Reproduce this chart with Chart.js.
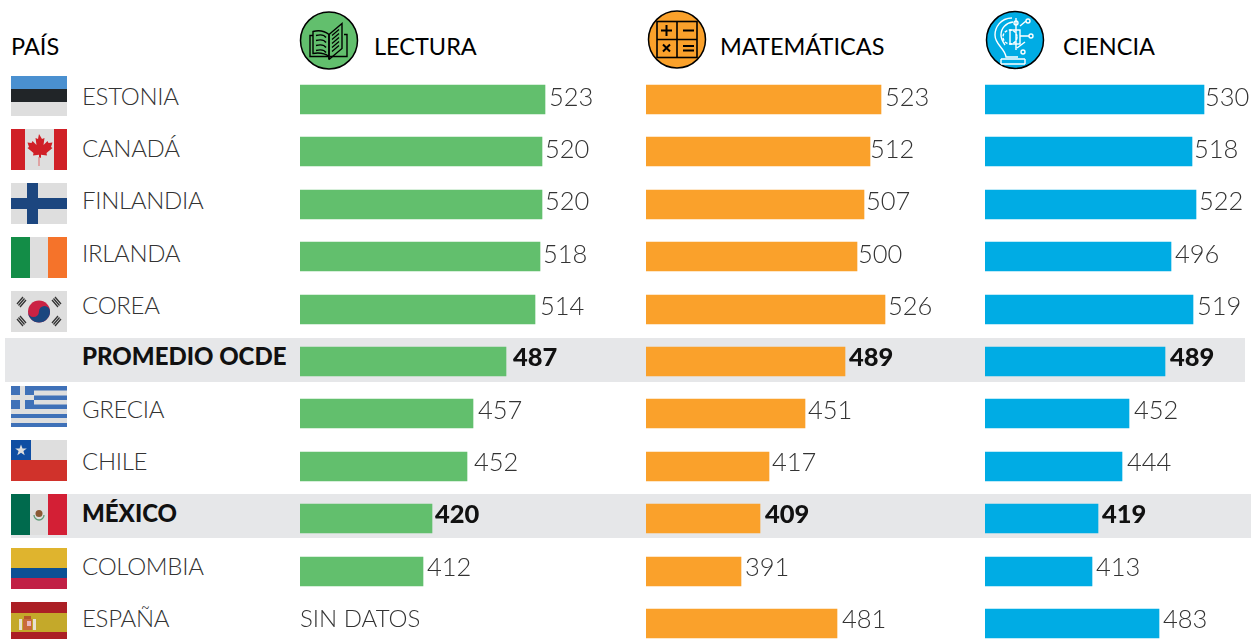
<!DOCTYPE html>
<html lang="es">
<head>
<meta charset="UTF-8" />
<title>PISA</title>
<script src="https://cdn.jsdelivr.net/npm/chart.js"></script>
<style>
    html, body { margin: 0; padding: 0; background: #fff; }
    #page { position: relative; width: 1257px; height: 639px; overflow: hidden; font-family: Lato, sans-serif; }
    #page canvas { position: absolute; top: 73px; }
    #dibujos { position: absolute; left: 0; top: 0; }
    .banda { position: absolute; background: #e6e7e9; height: 44px; }
    .pais { position: absolute; left: 82px; font-size: 24px; font-weight: 300; color: #333; line-height: 30px; white-space: nowrap; letter-spacing: -0.3px; }
    .pais.fuerte { font-weight: 900; color: #111; letter-spacing: 0; }
    .titulo { position: absolute; top: 31px; font-size: 23.5px; font-weight: 400; color: #000; line-height: 30px; white-space: nowrap; }
</style>
</head>
<body>
<div id="page">
    <div class="banda" style="left:5px;width:1240px;top:338px"></div>
    <div class="banda" style="left:11px;width:1240px;top:494px"></div>

    <svg id="dibujos" width="1257" height="639" xmlns="http://www.w3.org/2000/svg">
        <!-- banderas -->
        <g transform="translate(11,76)">
            <rect width="56" height="13" fill="#4a90d0"/><rect y="13" width="56" height="13" fill="#212528"/><rect y="26" width="56" height="14" fill="#dedede"/>
        </g>
        <g transform="translate(11,129)">
            <rect width="56" height="41" fill="#dedede"/><rect width="14" height="41" fill="#d02027"/><rect x="43" width="13" height="41" fill="#d02027"/>
            <path d="M28 5l3 5 2.500-1-1 7 4-4 1 2 4-.5-1.500 4.500 1.500 1-6 5 .5 2.500-6-.7v3h-2v-3l-6 .7.5-2.500-6-5 1.500-1-1.500-4.500 4 .5 1-2 4 4-1-7 2.500 1z" fill="#d02027"/>
            <rect x="27.300" y="28" width="1.400" height="9" fill="#e08a8a"/>
        </g>
        <g transform="translate(11,183)">
            <rect width="56" height="41" fill="#dedede"/><rect x="16" width="11" height="41" fill="#1c467f"/><rect y="15" width="56" height="11" fill="#1c467f"/>
        </g>
        <g transform="translate(11,237)">
            <rect width="56" height="41" fill="#dedede"/><rect width="19" height="41" fill="#138d47"/><rect x="37" width="19" height="41" fill="#f5732a"/>
        </g>
        <g transform="translate(11,291)">
            <rect width="56" height="41" fill="#dedede"/>
            <circle cx="28" cy="20.500" r="11" fill="#cb2244"/>
            <path d="M17 20.500a11 11 0 0 0 22 0 5.500 5.500 0 0 0-11 0 5.500 5.500 0 0 1-11 0z" fill="#1c467f"/>
            <g stroke="#333" stroke-width="1.300">
                <path d="M6 13l6-7M7.500 14.500l6-7M9 16l6-7"/><path d="M41 9l6 7M42.500 7.500l6 7M44 6l6 7"/>
                <path d="M6 28l6 7M7.500 26.500l6 7M9 25l6 7"/><path d="M41 32l6-7M42.500 33.500l6-7M44 35l6-7"/>
            </g>
        </g>
        <g transform="translate(11,386)">
            <rect width="56" height="41" fill="#dedede"/>
            <g fill="#3f71b8"><rect width="56" height="4.500"/><rect y="9.500" width="56" height="4.500"/><rect y="18.500" width="56" height="4.500"/><rect y="28" width="56" height="4"/><rect y="37" width="56" height="4"/><rect width="23" height="23"/></g>
            <rect x="9" width="5" height="23" fill="#dedede"/><rect y="9" width="23" height="5" fill="#dedede"/>
        </g>
        <g transform="translate(11,440)">
            <rect width="56" height="20" fill="#dedede"/><rect y="20" width="56" height="21" fill="#d0322b"/><rect width="20" height="20" fill="#0f4ea3"/>
            <path d="M10 4.500l1.500 4h4.300l-3.400 2.600 1.300 4.200-3.700-2.500-3.700 2.500 1.300-4.200-3.400-2.600h4.300z" fill="#dedede"/>
        </g>
        <g transform="translate(11,494)">
            <rect width="56" height="41" fill="#dedede"/><rect width="19" height="41" fill="#006a4d"/><rect x="37" width="19" height="41" fill="#d31f35"/>
            <circle cx="28" cy="19.500" r="3.500" fill="#8a5a35"/><path d="M23 21a5 5 0 0 0 10 0" fill="none" stroke="#5f9c78" stroke-width="1.300"/>
        </g>
        <g transform="translate(11,548)">
            <rect width="56" height="20" fill="#dfb42e"/><rect y="20" width="56" height="10" fill="#0c5094"/><rect y="30" width="56" height="11" fill="#c11f45"/>
        </g>
        <g transform="translate(11,602)">
            <rect width="56" height="37" fill="#c4a92a"/><rect width="56" height="11" fill="#ab1f25"/><rect y="30" width="56" height="9" fill="#ab1f25"/>
            <rect x="8" y="17" width="3" height="11" fill="#e8e0d0"/><rect x="22" y="17" width="3" height="11" fill="#e8e0d0"/>
            <rect x="12" y="17" width="9" height="11" fill="#c96a3a"/><rect x="16" y="19" width="4" height="5" fill="#e9b6c0"/><rect x="13" y="14" width="7" height="3" fill="#b5562a"/>
        </g>

        <!-- iconos -->
        <g transform="translate(329,40.500)">
            <circle r="28.500" fill="#62bf6d" stroke="#000" stroke-width="1.500"/>
            <g fill="none" stroke="#000" stroke-width="1.400">
                <path d="M0 19V-6C-5-10-12-10-16-9V13C-10 12-4 13 0 16"/>
                <path d="M0 19V-6L13-17V8L0 19"/>
                <path d="M-16-5h-3V16H-1M1 16H18V-6h-3"/>
                <path d="M-13-5c4-1 8-1 10 2M-13 0c4-1 8-1 10 2M-13 5c4-1 8-1 10 2M-13 10c4-1 8-1 10 2"/>
                <path d="M3-5l7-6M3-1l7-6M3 3l7-6M3 7l7-6M3 11l7-6" stroke-width="1.200"/>
            </g>
        </g>
        <g transform="translate(677,39.500)">
            <circle r="28.500" fill="#faa12b" stroke="#000" stroke-width="1.500"/>
            <rect x="-20" y="-18" width="40" height="36" fill="none" stroke="#000" stroke-width="1.600"/>
            <path d="M0-18V18M-20 0H20" stroke="#000" stroke-width="1.600"/>
            <path d="M-16-9H-5M-10.500-14.500V-3.500M6-9H17M-14 5l7 7M-7 5l-7 7M6 6.500H17M6 11H17" stroke="#000" stroke-width="2" fill="none"/>
        </g>
        <g transform="translate(1015,40)">
            <circle r="28.500" fill="#00ace4" stroke="#000" stroke-width="1.500"/>
            <g fill="none" stroke="#fff" stroke-width="1.400">
                <path d="M-3-22C-15-22-20-12-20-5C-20 5-10 8-9 17H3"/>
                <path d="M-2-18C-9-17-14-12-14-5C-14-2-12 2-10 5"/>
                <circle cx="-5" cy="-3" r="7" stroke-dasharray="3 1.500"/>
                <rect x="-5" y="-10" width="10" height="14"/>
                <path d="M1-22V10M5-14l6-5M5-4H14M2 8l8-6"/>
                <circle cx="1" cy="-17" r="2"/><circle cx="13" cy="-19" r="2"/><circle cx="16" cy="-4" r="2"/><circle cx="8" cy="12" r="2"/>
                <path d="M-14 19H10M-14 24H10" stroke-width="1.600"/><path d="M-14 19V24M10 19V24"/>
            </g>
        </g>
    </svg>

    <canvas id="grafLectura" width="330" height="577" style="left:300px"></canvas>
    <canvas id="grafMate" width="318" height="577" style="left:646px"></canvas>
    <canvas id="grafCiencia" width="272" height="577" style="left:985px"></canvas>

    <div class="titulo" style="left:11px">PAÍS</div>
    <div class="titulo" style="left:374px">LECTURA</div>
    <div class="titulo" style="left:720px">MATEMÁTICAS</div>
    <div class="titulo" style="left:1063px">CIENCIA</div>
</div>

<script>
    const paises = ["ESTONIA", "CANADÁ", "FINLANDIA", "IRLANDA", "COREA", "PROMEDIO OCDE", "GRECIA", "CHILE", "MÉXICO", "COLOMBIA", "ESPAÑA"];
    const lectura = [523, 520, 520, 518, 514, 487, 457, 452, 420, 412, null];
    const matematicas = [523, 512, 507, 500, 526, 489, 451, 417, 409, 391, 481];
    const ciencia = [530, 518, 522, 496, 519, 489, 452, 444, 419, 413, 483];
    const destacados = ["PROMEDIO OCDE", "MÉXICO"];
    const sinDatos = "SIN DATOS";

    // ajustes a mano de la maqueta: centro del texto de cada fila y separacion de cada etiqueta
    const centros = [97, 149, 201, 254, 306, 357, 410, 462, 514, 567, 619];
    const sepLectura = [4, 3, 3, 3, 5, 7, 5, 7, 3, 4, 4];
    const sepMate = [4, 0, 2, 1, 3, 4, 3, 3, 5, 4, 5];
    const sepCiencia = [1, 2, 3, 4, 4, 5, 5, 5, 4, 4, 4];

    const page = document.getElementById("page");

    paises.forEach((p, i) => {
        const el = document.createElement("div");
        el.className = destacados.includes(p) ? "pais fuerte" : "pais";
        el.style.top = (centros[i] - 15 - 1) + "px";
        el.textContent = p;
        page.appendChild(el);
    });

    // etiquetas de valor junto a cada barra, y pixeles enteros para las barras
    const etiquetas = {
        id: "etiquetas",
        beforeDatasetsDraw(chart) {
            chart.getDatasetMeta(0).data.forEach(bar => {
                bar.y = Math.round(bar.y - 14.5) + 14.5;
                bar.x = Math.round(bar.x);
            });
        },
        afterDatasetsDraw(chart) {
            const { ctx } = chart;
            const valores = chart.data.datasets[0].data;
            const sep = chart.options.plugins.etiquetas.sep;
            ctx.save();
            ctx.textBaseline = "middle";
            chart.getDatasetMeta(0).data.forEach((bar, i) => {
                const fuerte = destacados.includes(paises[i]);
                const y = centros[i] - 73 + 0.5;
                ctx.font = (fuerte ? "900 " : "300 ") + "25.5px Lato, sans-serif";
                ctx.fillStyle = fuerte ? "#111" : "#333";
                if (valores[i] === null) {
                    ctx.font = "300 24px Lato, sans-serif";
                    ctx.fillText(sinDatos, 0, y);
                } else {
                    ctx.fillText(valores[i], bar.x + sep[i], y);
                }
            });
            ctx.restore();
        }
    };

    function crearGrafico(id, valores, color, minimo, maximo, sep) {
        return new Chart(document.getElementById(id), {
            type: "bar",
            data: {
                labels: paises,
                datasets: [{ data: valores, backgroundColor: color, barThickness: 29 }]
            },
            options: {
                indexAxis: "y",
                responsive: false,
                animation: false,
                layout: { padding: { top: 0.3, bottom: 0.3, left: 0, right: 0 } },
                plugins: { legend: { display: false }, tooltip: { enabled: false }, etiquetas: { sep } },
                scales: {
                    x: { display: false, min: minimo, max: maximo },
                    y: { display: false }
                }
            },
            plugins: [etiquetas]
        });
    }

    crearGrafico("grafLectura", lectura, "#62bf6d", 300, 600, sepLectura);
    crearGrafico("grafMate", matematicas, "#faa12b", 301, 601, sepMate);
    crearGrafico("grafCiencia", ciencia, "#00ace4", 300, 586.3, sepCiencia);
</script>
</body>
</html>
